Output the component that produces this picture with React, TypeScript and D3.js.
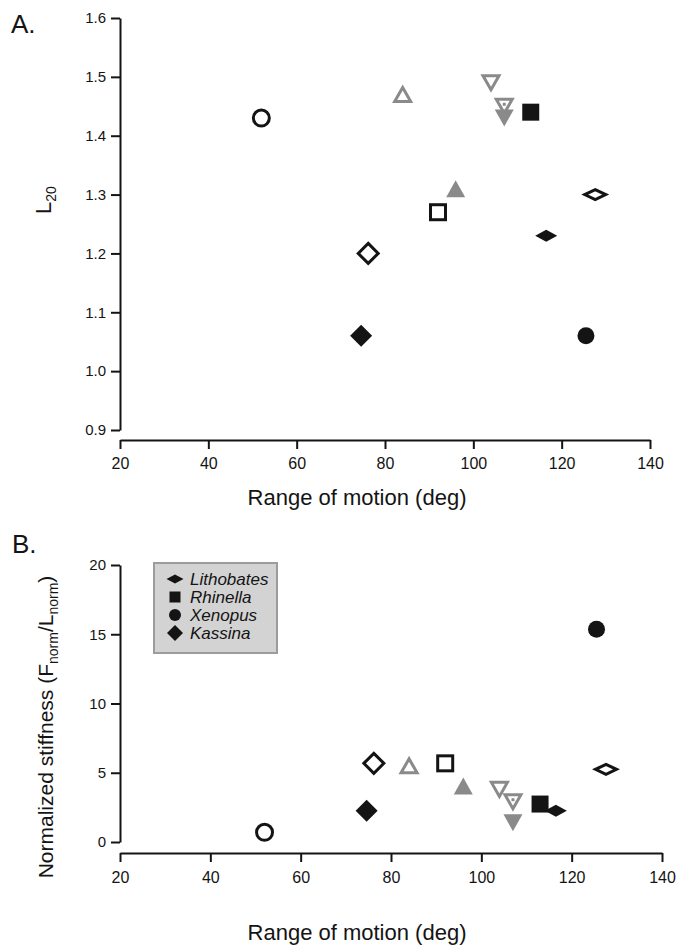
import React, { useEffect, useRef } from 'react';
import * as d3 from 'd3';

// one entry per muscle, same order in every array
const rangeOfMotion = [52, 74.6, 76.2, 84, 92, 96, 104, 107, 107, 113, 116.5, 125.5, 127.6];
const l20 = [1.43, 1.06, 1.2, 1.47, 1.27, 1.31, 1.49, 1.45, 1.43, 1.44, 1.23, 1.06, 1.3];
const stiffness = [0.7, 2.26, 5.68, 5.5, 5.68, 4.04, 3.8, 2.91, 1.39, 2.74, 2.26, 15.36, 5.25];
const markers = [
  'circleOpen', 'diamondFilled', 'diamondOpen', 'triUpOpen', 'squareOpen', 'triUpFilled',
  'triDownOpen', 'triDownDot', 'triDownFilled', 'squareFilled', 'flatFilled', 'circleFilled', 'flatOpen',
];

const xTicks = [20, 40, 60, 80, 100, 120, 140];
const yTicksA = [0.9, 1.0, 1.1, 1.2, 1.3, 1.4, 1.5, 1.6];
const yTicksB = [0, 5, 10, 15, 20];

const legendLabels = ['Lithobates', 'Rhinella', 'Xenopus', 'Kassina'];
const legendMarkers = ['flatSmall', 'squareSmall', 'circleSmall', 'diamondSmall'];

const BLACK = '#141414';
const GREY = '#8a8a8a';
const FONT = '"Liberation Sans", Arial, sans-serif';

function poly(pts: number[][]) {
  return 'M' + pts.map((p) => p.join(',')).join('L') + 'Z';
}

function drawMarker(g: any, kind: string, cx: number, cy: number) {
  const m = g.append('g').attr('transform', `translate(${cx},${cy})`);
  const grey = kind.startsWith('tri');
  const col = grey ? GREY : BLACK;
  const open = kind.endsWith('Open') || kind === 'triDownDot';
  const style = (el: any) =>
    open
      ? el.attr('fill', 'none').attr('stroke', col).attr('stroke-width', 3).attr('stroke-linejoin', 'miter')
      : el.attr('fill', col).attr('stroke', 'none');

  switch (kind) {
    case 'circleOpen':
      style(m.append('circle').attr('r', 8));
      break;
    case 'circleFilled':
      style(m.append('circle').attr('r', 8.5));
      break;
    case 'circleSmall':
      m.append('circle').attr('r', 6).attr('fill', BLACK);
      break;
    case 'squareOpen':
      style(m.append('rect').attr('x', -7.5).attr('y', -7.5).attr('width', 15).attr('height', 15));
      break;
    case 'squareFilled':
      style(m.append('rect').attr('x', -8.5).attr('y', -8.5).attr('width', 17).attr('height', 17));
      break;
    case 'squareSmall':
      m.append('rect').attr('x', -5.5).attr('y', -5.5).attr('width', 11).attr('height', 11).attr('fill', BLACK);
      break;
    case 'diamondOpen':
      style(m.append('path').attr('d', poly([[0, -10], [10, 0], [0, 10], [-10, 0]])));
      break;
    case 'diamondFilled':
      style(m.append('path').attr('d', poly([[0, -11], [11, 0], [0, 11], [-11, 0]])));
      break;
    case 'diamondSmall':
      m.append('path').attr('d', poly([[0, -8], [8, 0], [0, 8], [-8, 0]])).attr('fill', BLACK);
      break;
    case 'flatOpen':
      style(m.append('path').attr('d', poly([[0, -5], [10.5, 0], [0, 5], [-10.5, 0]])));
      break;
    case 'flatFilled':
      style(m.append('path').attr('d', poly([[0, -6], [11, 0], [0, 6], [-11, 0]])));
      break;
    case 'flatSmall':
      m.append('path').attr('d', poly([[0, -4.5], [8.5, 0], [0, 4.5], [-8.5, 0]])).attr('fill', BLACK);
      break;
    case 'triUpOpen':
      style(m.append('path').attr('d', poly([[0, -7], [8, 7], [-8, 7]])));
      break;
    case 'triUpFilled':
      style(m.append('path').attr('d', poly([[0, -8.5], [9.5, 8.5], [-9.5, 8.5]])));
      break;
    case 'triDownOpen':
      style(m.append('path').attr('d', poly([[-8, -7], [8, -7], [0, 7]])));
      break;
    case 'triDownDot':
      style(m.append('path').attr('d', poly([[-8, -7], [8, -7], [0, 7]])));
      m.append('rect').attr('x', -1.5).attr('y', -3.5).attr('width', 3).attr('height', 3).attr('fill', col);
      break;
    case 'triDownFilled':
      style(m.append('path').attr('d', poly([[-9.5, -8.5], [9.5, -8.5], [0, 8.5]])));
      break;
    default:
      break;
  }
}

function styleAxis(g: any, fontSize: number) {
  g.attr('font-family', FONT).attr('font-size', fontSize);
  g.selectAll('path').attr('stroke', BLACK).attr('stroke-width', 2);
  g.selectAll('line').attr('stroke', BLACK).attr('stroke-width', 2);
  g.selectAll('text').attr('fill', BLACK);
}

function Figure() {
  const svgRef = useRef<SVGSVGElement>(null);

  useEffect(() => {
    const svg = d3.select(svgRef.current);
    svg.selectAll('*').remove();

    // ---------- panel A ----------
    const xA = d3.scaleLinear().domain([20, 140]).range([120, 650]);
    const yA = d3.scaleLinear().domain([0.9, 1.6]).range([430, 18]);

    svg.append('g')
      .attr('transform', 'translate(0,440)')
      .call(d3.axisBottom(xA).tickValues(xTicks).tickSize(9).tickSizeOuter(0).tickPadding(9))
      .call((g: any) => styleAxis(g, 16));

    svg.append('g')
      .attr('transform', 'translate(120,0)')
      .call(d3.axisLeft(yA).tickValues(yTicksA).tickFormat(d3.format('.1f')).tickSize(9).tickSizeOuter(0).tickPadding(5))
      .call((g: any) => styleAxis(g, 15));

    const ptsA = svg.append('g');
    rangeOfMotion.forEach((v, i) => drawMarker(ptsA, markers[i], xA(v), yA(l20[i])));

    svg.append('text').attr('x', 11).attr('y', 33).attr('font-family', FONT).attr('font-size', 26).attr('fill', BLACK).text('A.');

    svg.append('text')
      .attr('x', 357).attr('y', 505).attr('text-anchor', 'middle')
      .attr('font-family', FONT).attr('font-size', 22).attr('fill', BLACK)
      .text('Range of motion (deg)');

    const lab = svg.append('text')
      .attr('transform', 'translate(51,214) rotate(-90)')
      .attr('font-family', FONT).attr('font-size', 22).attr('fill', BLACK);
    lab.append('tspan').text('L');
    lab.append('tspan').attr('font-size', 14).attr('dy', 5).text('20');

    // ---------- panel B ----------
    const xB = d3.scaleLinear().domain([20, 140]).range([120, 662]);
    const yB = d3.scaleLinear().domain([0, 20]).range([842, 565]);

    svg.append('g')
      .attr('transform', 'translate(0,853)')
      .call(d3.axisBottom(xB).tickValues(xTicks).tickSize(9).tickSizeOuter(0).tickPadding(10))
      .call((g: any) => styleAxis(g, 16));

    svg.append('g')
      .attr('transform', 'translate(120,0)')
      .call(d3.axisLeft(yB).tickValues(yTicksB).tickSize(9).tickSizeOuter(0).tickPadding(5))
      .call((g: any) => styleAxis(g, 15));

    // legend
    const leg = svg.append('g');
    leg.append('rect')
      .attr('x', 154).attr('y', 563).attr('width', 123).attr('height', 90)
      .attr('fill', '#d3d3d3').attr('stroke', '#9c9c9c').attr('stroke-width', 2);
    legendLabels.forEach((name, i) => {
      const cy = 579 + i * 18;
      drawMarker(leg, legendMarkers[i], 175, cy);
      leg.append('text')
        .attr('x', 190).attr('y', cy + 6)
        .attr('font-family', FONT).attr('font-size', 17).attr('font-style', 'italic').attr('fill', BLACK)
        .text(name);
    });

    const ptsB = svg.append('g');
    rangeOfMotion.forEach((v, i) => drawMarker(ptsB, markers[i], xB(v), yB(stiffness[i])));

    svg.append('text').attr('x', 12).attr('y', 553).attr('font-family', FONT).attr('font-size', 26).attr('fill', BLACK).text('B.');

    svg.append('text')
      .attr('x', 357).attr('y', 940).attr('text-anchor', 'middle')
      .attr('font-family', FONT).attr('font-size', 22).attr('fill', BLACK)
      .text('Range of motion (deg)');

    const yl = svg.append('text')
      .attr('transform', 'translate(53,727) rotate(-90)')
      .attr('text-anchor', 'middle')
      .attr('font-family', FONT).attr('font-size', 21).attr('fill', BLACK);
    yl.append('tspan').text('Normalized stiffness (F');
    yl.append('tspan').attr('font-size', 14).attr('dy', 5).text('norm');
    yl.append('tspan').attr('dy', -5).text('/L');
    yl.append('tspan').attr('font-size', 14).attr('dy', 5).text('norm');
    yl.append('tspan').attr('dy', -5).text(')');
  }, []);

  return (
    <svg
      ref={svgRef}
      width={679}
      height={945}
      style={{ position: 'absolute', left: 0, top: 0, display: 'block', background: '#fff' }}
    />
  );
}

export default function App() {
  return <Figure />;
}
